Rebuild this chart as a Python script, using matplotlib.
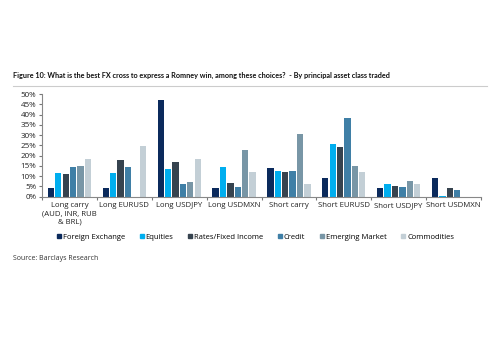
import numpy as np
import matplotlib
matplotlib.use("Agg")
import matplotlib.pyplot as plt
from matplotlib.lines import Line2D

plt.rcParams['font.family'] = ['Open Sans', 'DejaVu Sans']

categories = ["Long carry\n(AUD, INR, RUB\n& BRL)", "Long EURUSD", "Long USDJPY", "Long USDMXN",
              "Short carry", "Short EURUSD", "Short USDJPY", "Short USDMXN"]
series = ["Foreign Exchange", "Equities", "Rates/Fixed Income", "Credit",
          "Emerging Market", "Commodities"]
fx = [4.4, 4.4, 47.1, 4.4, 13.8, 9.1, 4.2, 9.1]
equities = [11.7, 11.7, 13.5, 14.3, 12.7, 25.7, 6.2, 0.5]
rates = [10.9, 17.8, 17.1, 6.5, 12.2, 24.4, 5.0, 4.2]
credit = [14.3, 14.3, 6.2, 4.7, 12.7, 38.3, 4.7, 3.1]
em = [15.1, 0.0, 7.3, 22.8, 30.6, 15.1, 7.5, 0.0]
commodities = [18.4, 24.6, 18.4, 12.2, 6.0, 12.2, 6.0, 0.0]
colors = ["#0b2a5c", "#00aeef", "#36434f", "#3f7fa6", "#7896a6", "#c3cfd6"]

fig = plt.figure(figsize=(5, 3.5), dpi=100)
ax = fig.add_axes([0.084, 0.438, 0.878, 0.293])

x = np.arange(len(categories))
step = 0.135
w = 0.115
for i, vals in enumerate([fx, equities, rates, credit, em, commodities]):
    ax.bar(x + (i - 2.5) * step, np.array(vals) / 100, width=w, color=colors[i], label=series[i])

ax.set_xlim(-0.5, len(categories) - 0.5)
ax.set_ylim(0, 0.5)
ax.set_yticks(np.arange(0, 0.51, 0.05))
ax.set_yticklabels(["%d%%" % v for v in range(0, 51, 5)])
ax.set_xticks(np.arange(-0.5, len(categories), 1.0))
ax.set_xticklabels([])
ax.set_xticks(x, minor=True)
ax.set_xticklabels(categories, minor=True, fontsize=5.6, color="#222222")
ax.tick_params(axis="x", which="minor", length=0, pad=4)
ax.tick_params(axis="x", which="major", length=2, color="#777777")
ax.tick_params(axis="y", labelsize=5.8, length=2, color="#777777", labelcolor="#222222", pad=2)
for s in ["top", "right"]:
    ax.spines[s].set_visible(False)
for s in ["left", "bottom"]:
    ax.spines[s].set_color("#888888")
    ax.spines[s].set_linewidth(0.8)

fig.text(0.026, 0.785, "Figure 10: What is the best FX cross to express a Romney win, among these choices?  - By principal asset class traded",
         fontsize=5.25, fontweight="bold", color="#111111", va="center", family=["Lato", "DejaVu Sans"])
fig.add_artist(Line2D([0.026, 0.974], [0.755, 0.755], color="#cccccc", lw=0.8))

handles = [Line2D([0], [0], marker="s", linestyle="", markersize=3, color=c) for c in colors]
fig.legend(handles, series, loc="center", bbox_to_anchor=(0.51, 0.323), ncol=6, frameon=False,
           fontsize=5.5, handletextpad=0.1, columnspacing=1.8, handlelength=0.8)

fig.text(0.026, 0.26, "Source: Barclays Research", fontsize=5, color="#333333", va="center")

fig.savefig("out.png", dpi=100)
